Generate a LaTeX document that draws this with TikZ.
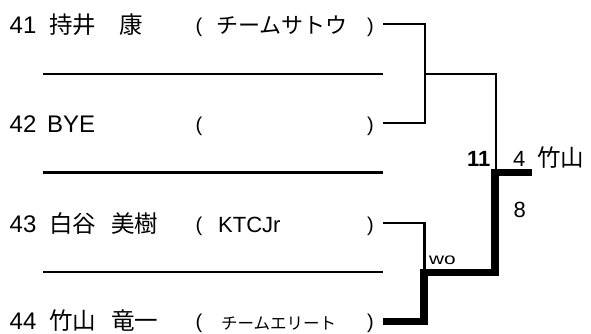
\documentclass[tikz,border=0pt]{standalone}
\usepackage{fontspec}
\setmainfont{Liberation Sans}
\newfontfamily\cjk{Noto Sans CJK JP}
\begin{document}
\begin{tikzpicture}[x=1pt,y=-1pt,
    every node/.style={inner sep=0pt,anchor=base west,font=\fontsize{24}{24}\selectfont},
    jp/.style={font=\fontsize{23.5}{24}\selectfont\cjk},
    team/.style={font=\fontsize{22}{22}\selectfont\cjk},
    small team/.style={font=\fontsize{16.5}{17}\selectfont\cjk},
    paren/.style={font=\fontsize{20}{20}\selectfont},
    score/.style={font=\fontsize{22}{22}\selectfont},
    thin line/.style={line width=2.6pt},
    win line/.style={line width=7.5pt}]
    \useasboundingbox (0,0) rectangle (591,333);
    % players: number and brackets
    \foreach \n/\y in {41/33,42/132,43/232,44/329} {
        \node (n\n) at (9.5,\y) {\n};
        \node[paren] (o\n) at (195.5,\y-0.5) {(};
        \node[paren] (c\n) at (367,\y-0.5) {)};
    }
    % names and clubs
    \node[jp] (f41) at (49,33) {持井};
    \node[jp] (g41) at (119,33) {康};
    \node[team] (t41) at (216,33) {チームサトウ};
    \node (f42) at (47,132) {BYE};
    \node[jp] (f43) at (49,232) {白谷};
    \node[jp] (g43) at (111,232) {美樹};
    \node[score] (t43) at (218,232) {KTCJr};
    \node[jp] (f44) at (49,329) {竹山};
    \node[jp] (g44) at (111,329) {竜一};
    \node[small team] (t44) at (221,329) {チームエリート};

    % separators between players
    \foreach \i/\y in {1/74,2/172.5,3/272} {
        \coordinate (sl\i) at (43,\y);
        \coordinate (sr\i) at (383,\y);
        \draw[thin line] (sl\i)--(sr\i);
    }

    % first match: 41 vs 42
    \coordinate (a1) at (383,24);
    \coordinate (a2) at (425,24);
    \coordinate (a3) at (425,123);
    \coordinate (a4) at (383,123);
    \draw[thin line] (a1)--(a2)--(a3)--(a4);
    \coordinate (m1) at (425,74);
    \coordinate (m2) at (496,74);
    \coordinate (m3) at (496,172.5);
    \draw[thin line] (m1)--(m2)--(m3);

    % second match: 43 vs 44
    \coordinate (b1) at (383,223);
    \coordinate (b2) at (424.5,223);
    \coordinate (b3) at (424.5,272.5);
    \draw[thin line] (b1)--(b2)--(b3);

    % winner path of 44
    \coordinate (w1) at (383,321.5);
    \coordinate (w2) at (424,321.5);
    \coordinate (w3) at (424,272.5);
    \coordinate (w4) at (495,272.5);
    \coordinate (w5) at (495,172.5);
    \coordinate (w6) at (532,172.5);
    \draw[win line] (w1)--(w2)--(w3)--(w4)--(w5)--(w6);

    % scores and result
    \node[font=\fontsize{16}{16}\selectfont] (wo) at (429,264) {\scalebox{1.3}[1]{wo}};
    \node[score,font=\fontsize{22}{22}\selectfont\bfseries] (s11) at (467,166) {11};
    \node[score] (s4) at (513,166) {4};
    \node[score] (s8) at (513.5,217) {8};
    \node[jp] (win) at (537,166) {竹山};
\end{tikzpicture}
\end{document}
